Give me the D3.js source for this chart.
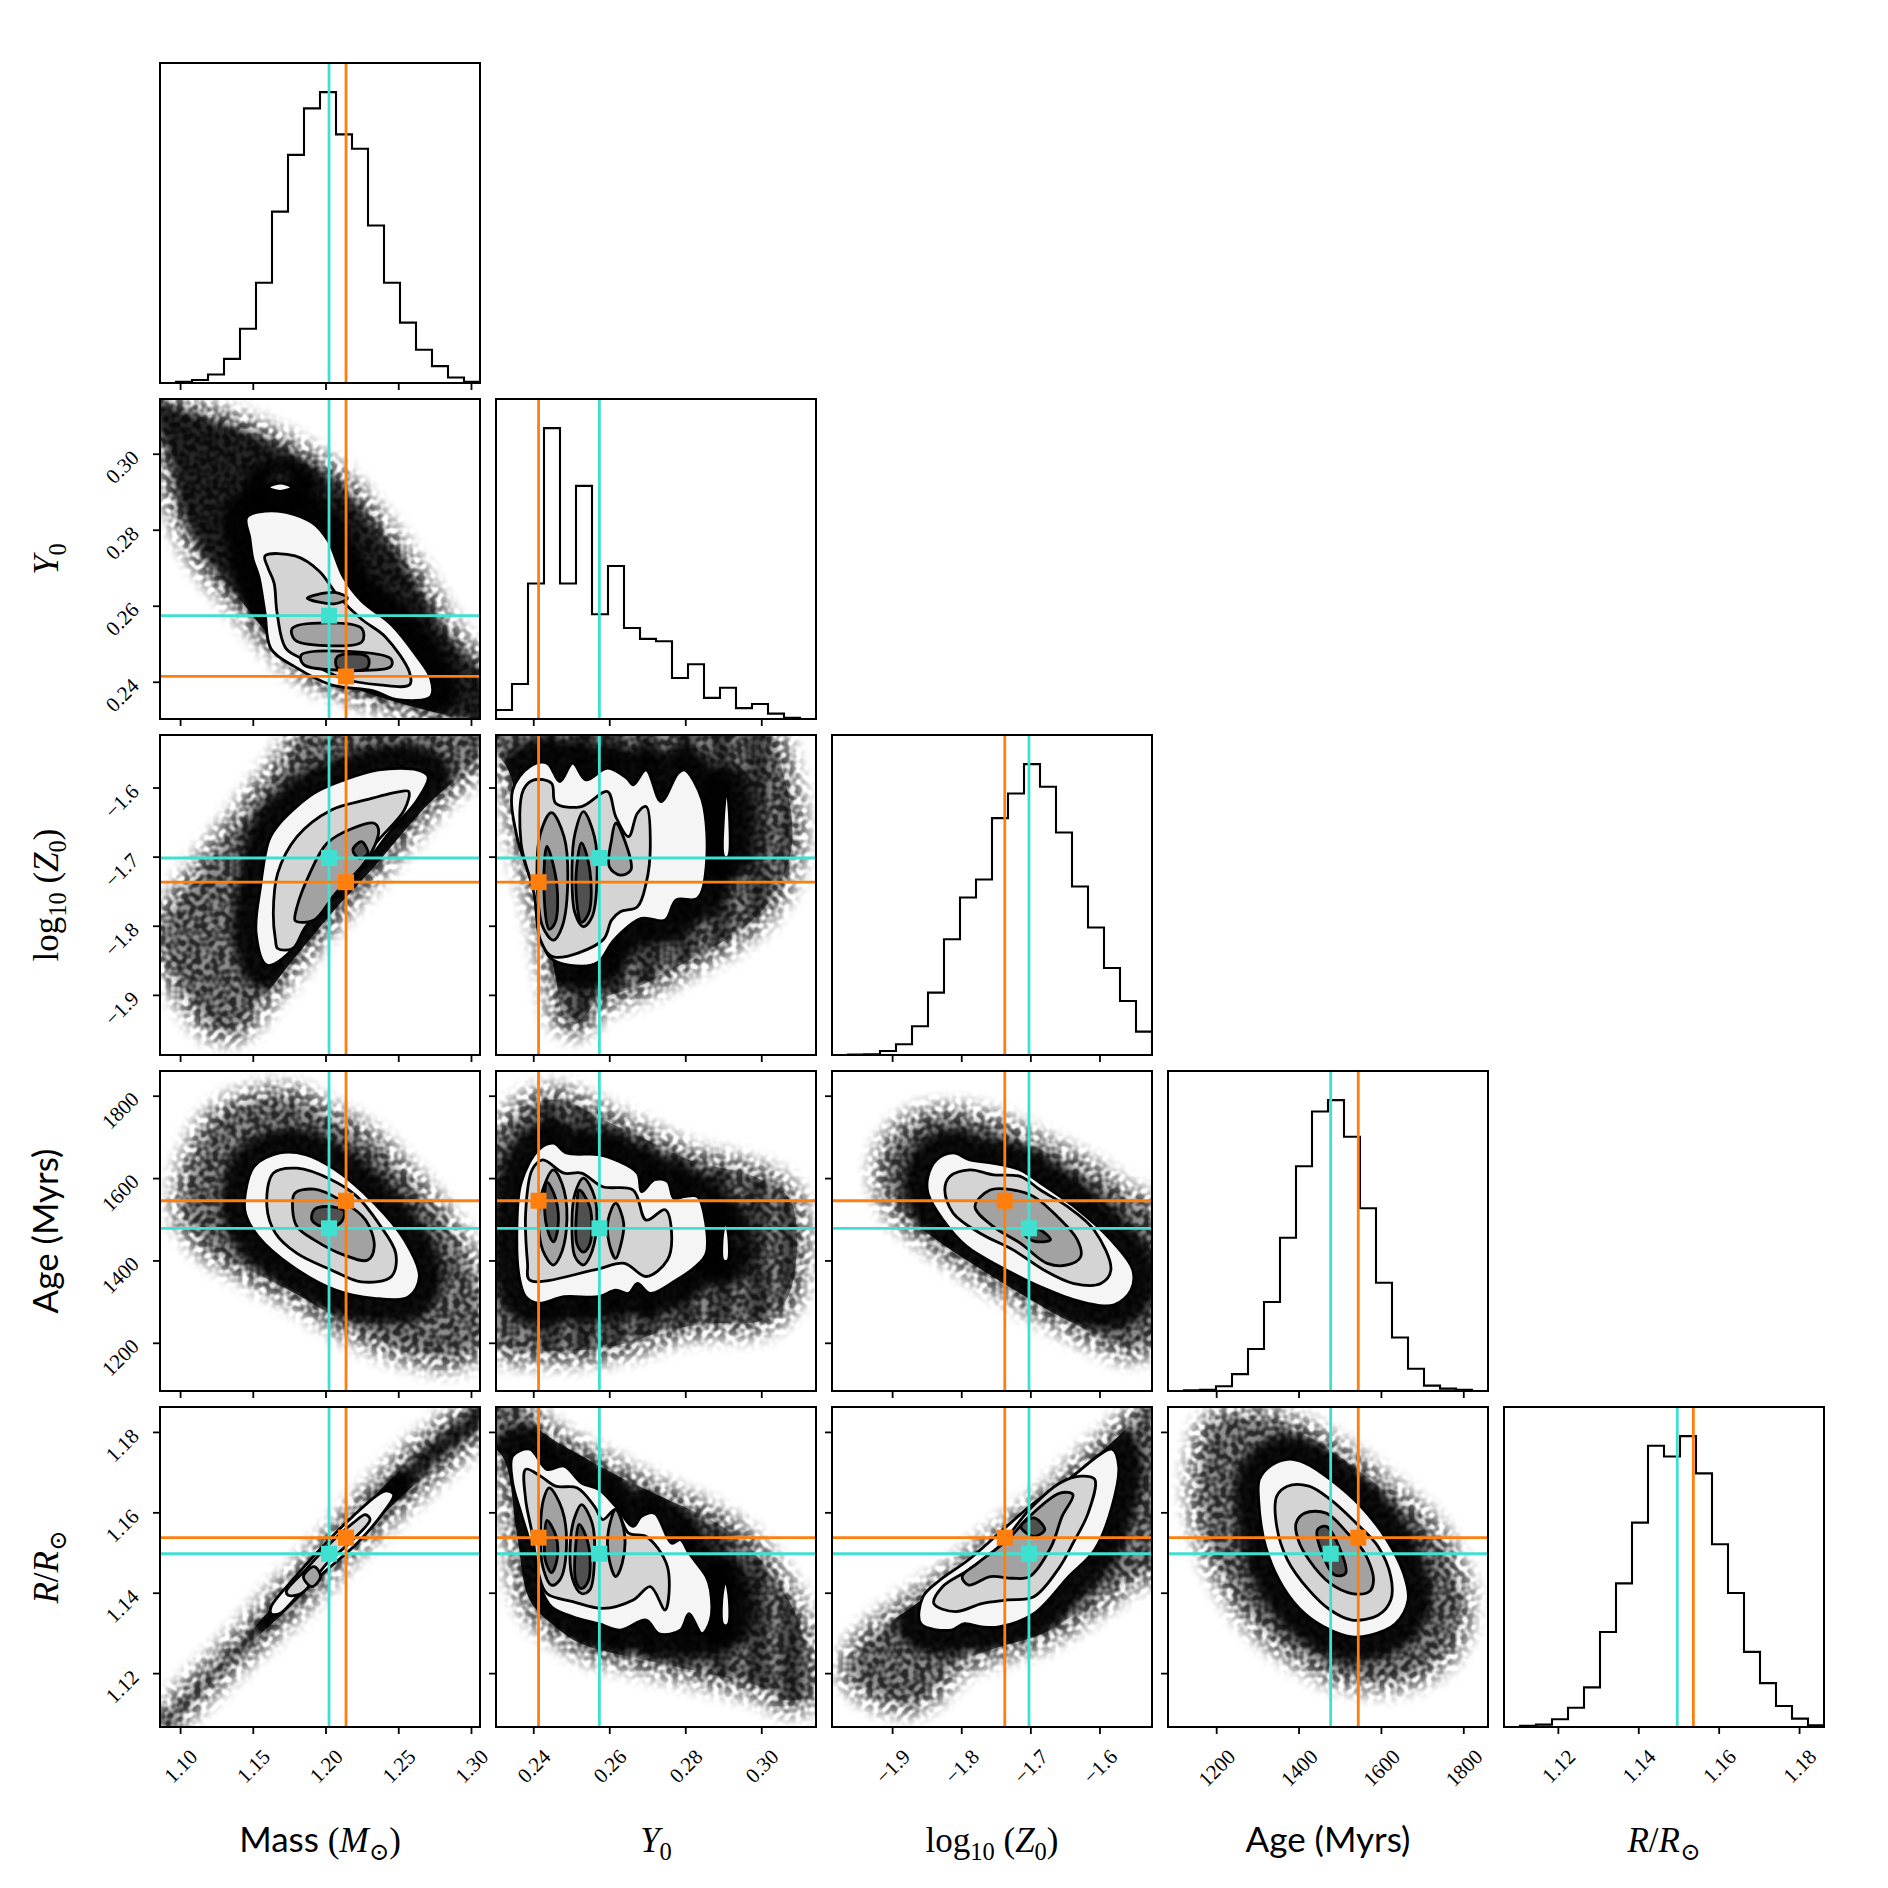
<!DOCTYPE html>
<html>
<head>
<meta charset="utf-8">
<script src="https://cdn.jsdelivr.net/npm/d3@7"></script>
<style>
  body { margin: 0; background: #fff; }
</style>
</head>
<body>
<div id="chart"></div>
<script>
// ---------------------------------------------------------------------------
// axes: Mass, Y0, log10(Z0), Age, R
// ---------------------------------------------------------------------------
var axisRanges = [[1.0862, 1.3062], [0.2302, 0.3144], [-1.987, -1.524], [1083, 1860], [1.1066, 1.1862]];

var massTicks = [1.10, 1.15, 1.20, 1.25, 1.30];
var y0Ticks = [0.24, 0.26, 0.28, 0.30];
var logzTicks = [-1.9, -1.8, -1.7, -1.6];
var ageTicks = [1200, 1400, 1600, 1800];
var radiusTicks = [1.12, 1.14, 1.16, 1.18];

var massTickLabels = ["1.10", "1.15", "1.20", "1.25", "1.30"];
var y0TickLabels = ["0.24", "0.26", "0.28", "0.30"];
var logzTickLabels = ["\u22121.9", "\u22121.8", "\u22121.7", "\u22121.6"];
var ageTickLabels = ["1200", "1400", "1600", "1800"];
var radiusTickLabels = ["1.12", "1.14", "1.16", "1.18"];

var massLabel = [["Mass ", "sans"], ["(", "rm"], ["M", "it"], ["\u2299", "sub"], [")", "rm"]];
var y0Label = [["Y", "it"], ["0", "sub"]];
var logzLabel = [["log", "rm"], ["10", "sub"], [" (", "rm"], ["Z", "it"], ["0", "sub"], [")", "rm"]];
var ageLabel = [["Age (Myrs)", "sans"]];
var radiusLabel = [["R", "it"], ["/", "rm"], ["R", "it"], ["\u2299", "sub"]];

// the two reference models (turquoise, orange)
var truthCyan = [1.2024, 0.2574, -1.702, 1478, 1.1497];
var truthOrange = [1.2141, 0.2414, -1.737, 1545, 1.1537];

// 1D histograms, 20 bins over the axis range
var massHist = [0, 2, 5, 14, 40, 90, 166, 284, 378, 455, 482, 412, 388, 261, 166, 100, 55, 28, 9, 2];
var y0Hist = [15, 58, 225, 483, 225, 387, 174, 254, 151, 133, 129, 68, 91, 35, 52, 18, 25, 9, 2, 0];
var logzHist = [0, 1, 2, 12, 32, 86, 187, 347, 472, 526, 710, 784, 872, 804, 667, 505, 382, 261, 162, 70];
var ageHist = [0, 1, 2, 8, 28, 70, 148, 255, 374, 465, 484, 423, 304, 180, 89, 37, 9, 4, 2, 0];
var radiusHist = [0, 2, 4, 13, 32, 66, 158, 239, 340, 468, 450, 484, 422, 304, 223, 125, 73, 35, 14, 3];

// Y0 values where the sample piles up (dark streaks in the Y0 column)
var y0Stripes = [0.2445, 0.2530, 0.2615, 0.2700, 0.2800, 0.2895, 0.2990, 0.3080];

// ---------------------------------------------------------------------------
// 2D panels: extent of the sample cloud + contour levels (outer -> inner)
// ---------------------------------------------------------------------------
var massY0Cloud = [[1.082, 0.3135], [1.1128, 0.3101], [1.1501, 0.3054], [1.1832, 0.2991], [1.2081, 0.2928], [1.2329, 0.2817], [1.2578, 0.2691], [1.2826, 0.2534], [1.312, 0.2395], [1.312, 0.2290], [1.2826, 0.2313], [1.2578, 0.2337], [1.2246, 0.2376], [1.1915, 0.2424], [1.1625, 0.2518], [1.1418, 0.2613], [1.1170, 0.2723], [1.1004, 0.2849], [1.0921, 0.2991], [1.082, 0.3085]];
var massY0Levels = [
  [[[1.1460, 0.2833], [1.1667, 0.2849], [1.1915, 0.2817], [1.2019, 0.2770], [1.2122, 0.2676], [1.2246, 0.2613], [1.2453, 0.2550], [1.2619, 0.2471], [1.2723, 0.2408], [1.2723, 0.2361], [1.2495, 0.2353], [1.2329, 0.2376], [1.2039, 0.2392], [1.1791, 0.2439], [1.1625, 0.2487], [1.1584, 0.2581], [1.1542, 0.2676], [1.1501, 0.2723], [1.1480, 0.2778]],
   [[1.1605, 0.2912], [1.1687, 0.2923], [1.1770, 0.2912], [1.1687, 0.2901]]],
  [[[1.1584, 0.2731], [1.1791, 0.2731], [1.1957, 0.2691], [1.2081, 0.2628], [1.2246, 0.2565], [1.2412, 0.2518], [1.2578, 0.2424], [1.2578, 0.2392], [1.2371, 0.2392], [1.2122, 0.2408], [1.1874, 0.2455], [1.1729, 0.2487], [1.1667, 0.2581], [1.1646, 0.2660], [1.1605, 0.2699]]],
  [[[1.1874, 0.2620], [1.2060, 0.2635], [1.2150, 0.2620], [1.2060, 0.2605]],
   [[1.1770, 0.2540], [1.2000, 0.2555], [1.2250, 0.2540], [1.2250, 0.2505], [1.2000, 0.2495], [1.1790, 0.2510]],
   [[1.1832, 0.2470], [1.2150, 0.2480], [1.2450, 0.2460], [1.2450, 0.2440], [1.2150, 0.2430], [1.1850, 0.2445]]],
  [[[1.2081, 0.2466], [1.2288, 0.2466], [1.2288, 0.2436], [1.2081, 0.2436]]]
];

var massLogzCloud = [[1.1892, -1.515], [1.312, -1.515], [1.312, -1.5406], [1.2690, -1.6275], [1.2335, -1.7145], [1.2040, -1.7821], [1.1774, -1.8498], [1.1538, -1.9126], [1.1390, -1.9464], [1.1242, -1.9464], [1.1095, -1.9126], [1.0917, -1.8498], [1.0888, -1.8014], [1.1035, -1.7531], [1.1213, -1.7048], [1.1390, -1.6565], [1.1567, -1.6082], [1.1744, -1.5599]];
var massLogzLevels = [
  [[[1.1597, -1.8570], [1.1523, -1.8111], [1.1553, -1.7435], [1.1612, -1.6758], [1.1685, -1.6517], [1.1922, -1.6082], [1.2128, -1.5889], [1.2365, -1.5744], [1.2631, -1.5744], [1.2705, -1.5841], [1.2631, -1.6179], [1.2453, -1.6614], [1.2276, -1.7097], [1.2128, -1.7435], [1.1922, -1.7821], [1.1744, -1.8401]]],
  [[[1.1656, -1.8208], [1.1641, -1.7821], [1.1671, -1.7242], [1.1804, -1.6710], [1.2040, -1.6324], [1.2276, -1.6179], [1.2513, -1.6058], [1.2572, -1.6058], [1.2542, -1.6324], [1.2365, -1.6758], [1.2217, -1.7145], [1.2099, -1.7483], [1.1863, -1.8014], [1.1774, -1.8329], [1.1671, -1.8329]]],
  [[[1.1789, -1.7918], [1.1804, -1.7725], [1.1892, -1.7242], [1.2010, -1.6807], [1.2188, -1.6589], [1.2335, -1.6517], [1.2365, -1.6614], [1.2335, -1.6855], [1.2247, -1.7145], [1.2069, -1.7531], [1.1922, -1.7918], [1.1804, -1.7942]]],
  [[[1.2188, -1.6903], [1.2247, -1.6783], [1.2291, -1.6952], [1.2232, -1.7024]]]
];

var y0LogzCloud = [[0.226, -1.515], [0.2334, -1.5744], [0.2380, -1.6855], [0.2425, -1.7821], [0.2459, -1.8739], [0.2481, -1.9319], [0.2515, -1.9415], [0.2572, -1.9077], [0.2674, -1.8884], [0.2810, -1.8498], [0.2957, -1.8014], [0.3036, -1.7531], [0.3081, -1.6807], [0.3059, -1.5841], [0.3002, -1.515]];
var y0LogzLevels = [
  [[[0.2346, -1.6034], [0.2357, -1.6710], [0.2391, -1.7290], [0.2419, -1.7821], [0.2442, -1.8449], [0.2527, -1.8585], [0.2572, -1.8522], [0.2612, -1.8208], [0.2685, -1.7894], [0.2747, -1.7918], [0.2776, -1.7628], [0.2832, -1.7604], [0.2855, -1.7145], [0.2844, -1.6179], [0.2798, -1.5744], [0.2781, -1.5792], [0.2736, -1.6203], [0.2697, -1.5744], [0.2663, -1.5961], [0.2646, -1.5865], [0.2595, -1.5720], [0.2538, -1.5889], [0.2504, -1.5647], [0.2470, -1.5913], [0.2436, -1.5647], [0.2391, -1.5696]],
   [[0.2902, -1.700], [0.2900, -1.650], [0.2909, -1.603], [0.2917, -1.650], [0.2913, -1.700]]],
  [[[0.2374, -1.6034], [0.2368, -1.6807], [0.2402, -1.7531], [0.2419, -1.8208], [0.2453, -1.8449], [0.2583, -1.8208], [0.2606, -1.7918], [0.2629, -1.7797], [0.2674, -1.7725], [0.2697, -1.7386], [0.2708, -1.6855], [0.2697, -1.6275], [0.2674, -1.6372], [0.2651, -1.6710], [0.2617, -1.6420], [0.2595, -1.6058], [0.2527, -1.6275], [0.2459, -1.6227], [0.2448, -1.5937], [0.2402, -1.5889]]],
  [[[0.2448, -1.6362], [0.2481, -1.6710], [0.2491, -1.7290], [0.2476, -1.8014], [0.2453, -1.8208], [0.2425, -1.8014], [0.2410, -1.7290], [0.2419, -1.6662]],
   [[0.2532, -1.6348], [0.2561, -1.6710], [0.2568, -1.7290], [0.2555, -1.7870], [0.2532, -1.8014], [0.2510, -1.7821], [0.2502, -1.7145], [0.2510, -1.6662]],
   [[0.2617, -1.6517], [0.2640, -1.6758], [0.2657, -1.7193], [0.2629, -1.7266], [0.2600, -1.7145], [0.2606, -1.6758]]],
  [[[0.2436, -1.685], [0.2462, -1.740], [0.2458, -1.795], [0.2442, -1.805], [0.2428, -1.745]],
   [[0.2527, -1.680], [0.2549, -1.720], [0.2547, -1.780], [0.2527, -1.795], [0.2512, -1.740]]]
];

var massAgeCloud = [[1.1095, 1636], [1.1242, 1734], [1.1479, 1782], [1.1774, 1790], [1.2040, 1742], [1.2276, 1693], [1.2513, 1612], [1.2719, 1531], [1.2926, 1425], [1.3044, 1328], [1.3044, 1198], [1.2867, 1166], [1.2572, 1182], [1.2217, 1231], [1.1833, 1312], [1.1479, 1377], [1.1183, 1442], [1.1035, 1523]];
var massAgeLevels = [
  [[[1.1449, 1563], [1.1508, 1628], [1.1685, 1661], [1.1863, 1657], [1.2069, 1620], [1.2335, 1539], [1.2542, 1450], [1.2645, 1361], [1.2572, 1312], [1.2335, 1308], [1.2069, 1328], [1.1774, 1385], [1.1538, 1458], [1.1449, 1515]]],
  [[[1.1597, 1531], [1.1641, 1612], [1.1804, 1624], [1.2040, 1596], [1.2217, 1555], [1.2365, 1490], [1.2483, 1417], [1.2453, 1361], [1.2247, 1348], [1.2040, 1377], [1.1804, 1417], [1.1656, 1466]]],
  [[[1.1774, 1523], [1.1789, 1563], [1.1922, 1573], [1.2099, 1547], [1.2276, 1498], [1.2335, 1434], [1.2291, 1401], [1.2128, 1413], [1.1922, 1450], [1.1804, 1482]]],
  [[[1.1907, 1498], [1.1922, 1523], [1.2010, 1531], [1.2128, 1519], [1.2099, 1490], [1.1981, 1482]]]
];

var y0AgeCloud = [[0.2391, 1774], [0.2470, 1790], [0.2583, 1742], [0.2697, 1693], [0.2810, 1644], [0.2980, 1604], [0.3070, 1555], [0.3093, 1474], [0.3070, 1312], [0.3002, 1255], [0.2866, 1247], [0.2753, 1231], [0.2640, 1198], [0.2527, 1182], [0.2414, 1182], [0.2323, 1190], [0.226, 1312], [0.226, 1620]];
var y0AgeLevels = [
  [[[0.2414, 1669], [0.2453, 1685], [0.2487, 1661], [0.2572, 1657], [0.2617, 1644], [0.2674, 1612], [0.2685, 1567], [0.2719, 1596], [0.2753, 1592], [0.2770, 1551], [0.2798, 1555], [0.2832, 1555], [0.2849, 1515], [0.2855, 1417], [0.2827, 1385], [0.2776, 1352], [0.2708, 1320], [0.2674, 1344], [0.2651, 1320], [0.2617, 1328], [0.2572, 1312], [0.2481, 1312], [0.2414, 1296], [0.2380, 1312], [0.2363, 1361], [0.2357, 1474], [0.2368, 1588]],
   [[0.2900, 1400], [0.2897, 1450], [0.2906, 1495], [0.2915, 1450], [0.2912, 1400]]],
  [[[0.2391, 1352], [0.2561, 1377], [0.2640, 1393], [0.2697, 1361], [0.2753, 1401], [0.2764, 1466], [0.2747, 1523], [0.2697, 1498], [0.2663, 1571], [0.2583, 1579], [0.2527, 1612], [0.2481, 1612], [0.2425, 1644], [0.2397, 1620], [0.2380, 1515], [0.2385, 1393]]],
  [[[0.2453, 1620], [0.2481, 1571], [0.2487, 1474], [0.2470, 1409], [0.2453, 1389], [0.2425, 1425], [0.2414, 1507], [0.2425, 1571]],
   [[0.2532, 1600], [0.2561, 1555], [0.2566, 1474], [0.2549, 1409], [0.2532, 1389], [0.2510, 1409], [0.2502, 1498], [0.2510, 1563]],
   [[0.2617, 1539], [0.2638, 1490], [0.2629, 1433], [0.2617, 1405], [0.2600, 1441], [0.2597, 1498]]],
  [[[0.2436, 1590], [0.2459, 1550], [0.2465, 1480], [0.2453, 1445], [0.2436, 1480], [0.2430, 1550]],
   [[0.2521, 1571], [0.2549, 1530], [0.2549, 1440], [0.2532, 1420], [0.2515, 1440], [0.2515, 1530]]]
];

var logzAgeCloud = [[-1.8990, 1677], [-1.8602, 1734], [-1.8019, 1742], [-1.7437, 1717], [-1.6854, 1669], [-1.6272, 1620], [-1.5689, 1555], [-1.515, 1498], [-1.515, 1231], [-1.5495, 1190], [-1.5981, 1215], [-1.6563, 1263], [-1.7146, 1320], [-1.7777, 1385], [-1.8359, 1450], [-1.8893, 1523], [-1.9087, 1596]];
var logzAgeLevels = [
  [[[-1.8481, 1604], [-1.8359, 1644], [-1.8117, 1661], [-1.7874, 1644], [-1.7534, 1636], [-1.7146, 1620], [-1.6854, 1588], [-1.6369, 1531], [-1.5835, 1450], [-1.5519, 1377], [-1.5544, 1328], [-1.5786, 1292], [-1.6272, 1300], [-1.6854, 1336], [-1.7437, 1385], [-1.7922, 1434], [-1.8262, 1498], [-1.8481, 1563]]],
  [[[-1.8238, 1571], [-1.8165, 1604], [-1.7874, 1620], [-1.7534, 1608], [-1.7146, 1604], [-1.6854, 1571], [-1.6466, 1531], [-1.6078, 1474], [-1.5835, 1377], [-1.5981, 1344], [-1.6369, 1344], [-1.6806, 1377], [-1.7243, 1425], [-1.7728, 1466], [-1.8117, 1515]]],
  [[[-1.7801, 1531], [-1.7583, 1571], [-1.7243, 1571], [-1.6951, 1555], [-1.6612, 1507], [-1.6320, 1450], [-1.6272, 1409], [-1.6466, 1389], [-1.6757, 1393], [-1.7146, 1442], [-1.7534, 1482]]],
  [[[-1.7049, 1482], [-1.6854, 1474], [-1.6709, 1450], [-1.6951, 1447], [-1.7097, 1466]]]
];

var massRadiusCloud = [[1.082, 1.1040], [1.1065, 1.1148], [1.1390, 1.1265], [1.1656, 1.1373], [1.1981, 1.1498], [1.2335, 1.1640], [1.2690, 1.1765], [1.3015, 1.1857], [1.312, 1.1900], [1.312, 1.1840], [1.2749, 1.1715], [1.2453, 1.1615], [1.2158, 1.1515], [1.1804, 1.1382], [1.1479, 1.1273], [1.1183, 1.1173], [1.0917, 1.1069], [1.082, 1.1020]];
var massRadiusLevels = [
  [[[1.1626, 1.1365], [1.1774, 1.1432], [1.1981, 1.1515], [1.2188, 1.1590], [1.2409, 1.1653], [1.2468, 1.1644], [1.2394, 1.1598], [1.2217, 1.1523], [1.2010, 1.1457], [1.1804, 1.1390], [1.1685, 1.1348], [1.1626, 1.1348]]],
  [[[1.1730, 1.1403], [1.1863, 1.1457], [1.2010, 1.1515], [1.2188, 1.1573], [1.2276, 1.1594], [1.2306, 1.1582], [1.2188, 1.1532], [1.2010, 1.1473], [1.1833, 1.1398], [1.1744, 1.1394]]],
  [[[1.1848, 1.1440], [1.1922, 1.1465], [1.1966, 1.1440], [1.1907, 1.1415]]],
  []
];

var y0RadiusCloud = [[0.226, 1.1900], [0.2334, 1.1900], [0.2414, 1.1807], [0.2527, 1.1740], [0.2640, 1.1682], [0.2753, 1.1632], [0.2866, 1.1582], [0.2957, 1.1523], [0.3025, 1.1448], [0.3081, 1.1365], [0.3127, 1.1232], [0.3127, 1.1148], [0.3070, 1.1132], [0.3002, 1.1165], [0.2866, 1.1198], [0.2697, 1.1232], [0.2527, 1.1273], [0.2459, 1.1315], [0.2391, 1.1382], [0.2357, 1.1548], [0.2323, 1.1732], [0.226, 1.1800]];
var y0RadiusLevels = [
  [[[0.2346, 1.1740], [0.2391, 1.1757], [0.2436, 1.1707], [0.2481, 1.1715], [0.2527, 1.1673], [0.2572, 1.1657], [0.2617, 1.1615], [0.2663, 1.1565], [0.2685, 1.1590], [0.2719, 1.1598], [0.2764, 1.1523], [0.2787, 1.1532], [0.2810, 1.1498], [0.2855, 1.1440], [0.2866, 1.1407], [0.2866, 1.1332], [0.2844, 1.1298], [0.2810, 1.1348], [0.2787, 1.1307], [0.2731, 1.1298], [0.2697, 1.1332], [0.2629, 1.1307], [0.2572, 1.1323], [0.2504, 1.1340], [0.2448, 1.1365], [0.2419, 1.1415], [0.2402, 1.1490], [0.2368, 1.1598], [0.2346, 1.1673]],
   [[0.2900, 1.1320], [0.2896, 1.1380], [0.2906, 1.1430], [0.2916, 1.1380], [0.2912, 1.1320]]],
  [[[0.2380, 1.1707], [0.2419, 1.1690], [0.2459, 1.1665], [0.2515, 1.1661], [0.2561, 1.1615], [0.2583, 1.1582], [0.2617, 1.1607], [0.2651, 1.1548], [0.2697, 1.1540], [0.2753, 1.1465], [0.2747, 1.1357], [0.2708, 1.1415], [0.2663, 1.1382], [0.2583, 1.1361], [0.2504, 1.1378], [0.2436, 1.1398], [0.2414, 1.1448], [0.2397, 1.1548], [0.2380, 1.1632]]],
  [[[0.2442, 1.1661], [0.2476, 1.1607], [0.2487, 1.1507], [0.2470, 1.1432], [0.2448, 1.1419], [0.2425, 1.1465], [0.2419, 1.1548], [0.2427, 1.1632]],
   [[0.2527, 1.1619], [0.2555, 1.1573], [0.2561, 1.1482], [0.2549, 1.1407], [0.2527, 1.1398], [0.2504, 1.1432], [0.2498, 1.1532], [0.2510, 1.1590]],
   [[0.2617, 1.1607], [0.2640, 1.1548], [0.2634, 1.1473], [0.2617, 1.1440], [0.2600, 1.1482], [0.2597, 1.1548]]],
  [[[0.2436, 1.1580], [0.2460, 1.1540], [0.2462, 1.1480], [0.2448, 1.1450], [0.2432, 1.1480], [0.2430, 1.1540]],
   [[0.2521, 1.1570], [0.2545, 1.1520], [0.2545, 1.1430], [0.2527, 1.1410], [0.2512, 1.1430], [0.2512, 1.1520]]]
];

var logzRadiusCloud = [[-1.9340, 1.1282], [-1.8711, 1.1365], [-1.8082, 1.1440], [-1.7453, 1.1532], [-1.6824, 1.1615], [-1.6195, 1.1715], [-1.5566, 1.1815], [-1.515, 1.1880], [-1.515, 1.1482], [-1.5566, 1.1440], [-1.6195, 1.1365], [-1.6824, 1.1298], [-1.7453, 1.1265], [-1.8082, 1.1223], [-1.8396, 1.1165], [-1.8711, 1.1132], [-1.9214, 1.1148], [-1.9591, 1.1207]];
var logzRadiusLevels = [
  [[[-1.8553, 1.1390], [-1.8333, 1.1428], [-1.7893, 1.1482], [-1.7453, 1.1548], [-1.6950, 1.1623], [-1.6447, 1.1682], [-1.5818, 1.1757], [-1.5723, 1.1715], [-1.5818, 1.1615], [-1.6069, 1.1507], [-1.6447, 1.1440], [-1.6950, 1.1348], [-1.7453, 1.1315], [-1.7704, 1.1315], [-1.7956, 1.1323], [-1.8145, 1.1307], [-1.8585, 1.1323]]],
  [[[-1.8396, 1.1373], [-1.8270, 1.1415], [-1.7893, 1.1457], [-1.7453, 1.1515], [-1.7013, 1.1607], [-1.6572, 1.1673], [-1.6258, 1.1690], [-1.6069, 1.1682], [-1.6164, 1.1598], [-1.6384, 1.1523], [-1.6572, 1.1465], [-1.6950, 1.1390], [-1.7327, 1.1382], [-1.7704, 1.1373], [-1.8082, 1.1353]]],
  [[[-1.7987, 1.1440], [-1.7767, 1.1473], [-1.7327, 1.1532], [-1.7013, 1.1590], [-1.6572, 1.1648], [-1.6384, 1.1644], [-1.6541, 1.1590], [-1.6698, 1.1515], [-1.7013, 1.1440], [-1.7264, 1.1436], [-1.7579, 1.1440], [-1.7893, 1.1419]]],
  [[[-1.7138, 1.1565], [-1.6950, 1.1586], [-1.6792, 1.1557], [-1.6950, 1.1540]]]
];

var ageRadiusCloud = [[1195, 1.1815], [1299, 1.1832], [1404, 1.1798], [1509, 1.1732], [1614, 1.1648], [1708, 1.1565], [1760, 1.1482], [1792, 1.1382], [1771, 1.1282], [1718, 1.1223], [1635, 1.1190], [1509, 1.1198], [1404, 1.1248], [1299, 1.1332], [1226, 1.1440], [1174, 1.1565], [1163, 1.1698]];
var ageRadiusLevels = [
  [[[1305, 1.1682], [1331, 1.1715], [1373, 1.1732], [1415, 1.1723], [1477, 1.1682], [1551, 1.1615], [1614, 1.1532], [1655, 1.1448], [1666, 1.1382], [1635, 1.1323], [1572, 1.1294], [1530, 1.1290], [1477, 1.1307], [1415, 1.1348], [1362, 1.1415], [1320, 1.1515], [1303, 1.1632]]],
  [[[1347, 1.1640], [1373, 1.1665], [1425, 1.1665], [1477, 1.1632], [1540, 1.1573], [1593, 1.1515], [1624, 1.1440], [1624, 1.1382], [1593, 1.1344], [1530, 1.1332], [1477, 1.1357], [1425, 1.1407], [1373, 1.1482], [1347, 1.1565]]],
  [[[1394, 1.1573], [1415, 1.1598], [1467, 1.1598], [1519, 1.1548], [1561, 1.1498], [1582, 1.1432], [1572, 1.1403], [1530, 1.1398], [1477, 1.1423], [1425, 1.1482], [1399, 1.1532]]],
  [[[1446, 1.1557], [1467, 1.1565], [1498, 1.1515], [1514, 1.1448], [1488, 1.1444], [1457, 1.1498]]]
];

// ---------------------------------------------------------------------------
// tables built from the arrays above
// ---------------------------------------------------------------------------
var tickValues = [massTicks, y0Ticks, logzTicks, ageTicks, radiusTicks];
var tickLabels = [massTickLabels, y0TickLabels, logzTickLabels, ageTickLabels, radiusTickLabels];
var axisLabels = [massLabel, y0Label, logzLabel, ageLabel, radiusLabel];
var histograms = [massHist, y0Hist, logzHist, ageHist, radiusHist];

var pairs = [
  {row: 1, col: 0, cloud: massY0Cloud, levels: massY0Levels, dense: true},
  {row: 2, col: 0, cloud: massLogzCloud, levels: massLogzLevels},
  {row: 2, col: 1, cloud: y0LogzCloud, levels: y0LogzLevels, stripes: true},
  {row: 3, col: 0, cloud: massAgeCloud, levels: massAgeLevels},
  {row: 3, col: 1, cloud: y0AgeCloud, levels: y0AgeLevels, stripes: true},
  {row: 3, col: 2, cloud: logzAgeCloud, levels: logzAgeLevels},
  {row: 4, col: 0, cloud: massRadiusCloud, levels: massRadiusLevels, dense: true},
  {row: 4, col: 1, cloud: y0RadiusCloud, levels: y0RadiusLevels, stripes: true},
  {row: 4, col: 2, cloud: logzRadiusCloud, levels: logzRadiusLevels},
  {row: 4, col: 3, cloud: ageRadiusCloud, levels: ageRadiusLevels}
];

// ---------------------------------------------------------------------------
// layout / style
// ---------------------------------------------------------------------------
var W = 1888, H = 1888;
var size = 320, gap = 16;
var originX = 160, originY = 63;
var nDim = 5;
var cyan = "#40e0d0", orange = "#ff7f0e";
var levelFills = ["#f5f5f5", "#d4d4d4", "#a2a2a2", "#505050"];
var serif = "'Liberation Serif', 'DejaVu Serif', serif";
var sans = "Lato, 'DejaVu Sans', sans-serif";

var svg = d3.select("#chart").append("svg")
  .attr("xmlns", "http://www.w3.org/2000/svg")
  .attr("width", W)
  .attr("height", H);

svg.append("rect").attr("width", W).attr("height", H).attr("fill", "#fff");

var defs = svg.append("defs");

function newFilter(id) {
  return defs.append("filter")
    .attr("id", id)
    .attr("filterUnits", "userSpaceOnUse")
    .attr("x", -80).attr("y", -80)
    .attr("width", size + 160).attr("height", size + 160);
}
newFilter("blurCore").append("feGaussianBlur").attr("stdDeviation", 5);
newFilter("blurStripe").append("feGaussianBlur").attr("stdDeviation", 4);

// grainy blur: looks like many faint overlapping sample points
var grain = newFilter("grain");
grain.append("feGaussianBlur").attr("in", "SourceGraphic").attr("stdDeviation", 8).attr("result", "soft");
grain.append("feTurbulence")
  .attr("type", "fractalNoise").attr("baseFrequency", 0.17)
  .attr("numOctaves", 1).attr("seed", 4).attr("result", "noise");
grain.append("feColorMatrix")
  .attr("in", "noise").attr("type", "matrix")
  .attr("values", "0 0 0 0 0  0 0 0 0 0  0 0 0 0 0  3.4 0 0 0 -1.15")
  .attr("result", "mask");
grain.append("feComposite").attr("in", "soft").attr("in2", "mask").attr("operator", "in");

var xScales = axisRanges.map(function(r) { return d3.scaleLinear().domain(r).range([0, size]); });
var yScales = axisRanges.map(function(r) { return d3.scaleLinear().domain(r).range([size, 0]); });

function panelGroup(i, j) {
  return svg.append("g")
    .attr("transform", "translate(" + (originX + j * (size + gap)) + "," + (originY + i * (size + gap)) + ")");
}

function addClip(g, id) {
  defs.append("clipPath").attr("id", id)
    .append("rect").attr("width", size).attr("height", size);
  return g.append("g").attr("clip-path", "url(#" + id + ")");
}

// bottom ticks on every panel, labels on the last row
function drawXAxis(g, i, j) {
  var ax = g.append("g")
    .attr("transform", "translate(0," + size + ")")
    .call(d3.axisBottom(xScales[j])
      .tickValues(tickValues[j])
      .tickSize(7)
      .tickFormat(function(d, k) { return tickLabels[j][k]; }));
  ax.select(".domain").remove();
  ax.selectAll("line").attr("stroke", "#000").attr("stroke-width", 1.8);
  if (i === nDim - 1) {
    ax.attr("font-family", serif).attr("font-size", 21);
    ax.selectAll("text")
      .attr("fill", "#000")
      .attr("y", 0)
      .attr("dy", "0.35em")
      .attr("text-anchor", "middle")
      .each(function() {
        var w = this.getComputedTextLength();
        var off = 21 + (w + 14) * 0.3535;
        d3.select(this).attr("transform", "translate(0," + off + ") rotate(-45)");
      });
  } else {
    ax.selectAll("text").remove();
  }
}

// left ticks on 2D panels, labels on the first column
function drawYAxis(g, i, j) {
  var ax = g.append("g")
    .call(d3.axisLeft(yScales[i])
      .tickValues(tickValues[i])
      .tickSize(7)
      .tickFormat(function(d, k) { return tickLabels[i][k]; }));
  ax.select(".domain").remove();
  ax.selectAll("line").attr("stroke", "#000").attr("stroke-width", 1.8);
  if (j === 0) {
    ax.attr("font-family", serif).attr("font-size", 21);
    ax.selectAll("text")
      .attr("fill", "#000")
      .attr("x", 0)
      .attr("dy", "0.35em")
      .attr("text-anchor", "middle")
      .each(function() {
        var w = this.getComputedTextLength();
        var dx = -(20 + (w + 14) * 0.3535);
        var dy = 0.25 * (w + 14);
        d3.select(this).attr("transform", "translate(" + dx + "," + dy + ") rotate(-45)");
      });
  } else {
    ax.selectAll("text").remove();
  }
}

function frame(g) {
  g.append("rect")
    .attr("width", size).attr("height", size)
    .attr("fill", "none")
    .attr("stroke", "#000")
    .attr("stroke-width", 2);
}

// ---------------------------------------------------------------------------
// diagonal: histograms
// ---------------------------------------------------------------------------
histograms.forEach(function(counts, j) {
  var g = panelGroup(j, j);
  var body = addClip(g, "clip-h-" + j);
  var xs = xScales[j];
  var ys = d3.scaleLinear().domain([0, 1.1 * d3.max(counts)]).range([size, 0]);
  var lo = axisRanges[j][0], hi = axisRanges[j][1];
  var step = (hi - lo) / counts.length;

  var pts = [[lo, 0]];
  counts.forEach(function(c, k) {
    pts.push([lo + k * step, c]);
    pts.push([lo + (k + 1) * step, c]);
  });
  pts.push([hi, 0]);

  body.append("path")
    .attr("d", d3.line().x(function(d) { return xs(d[0]); }).y(function(d) { return ys(d[1]); })(pts))
    .attr("fill", "none")
    .attr("stroke", "#000")
    .attr("stroke-width", 2.1);

  [[truthCyan, cyan], [truthOrange, orange]].forEach(function(t) {
    body.append("line")
      .attr("x1", xs(t[0][j])).attr("x2", xs(t[0][j]))
      .attr("y1", 0).attr("y2", size)
      .attr("stroke", t[1]).attr("stroke-width", 2.8);
  });

  frame(g);
  drawXAxis(g, j, j);
});

// ---------------------------------------------------------------------------
// off-diagonal: sample cloud + density contours
// ---------------------------------------------------------------------------
pairs.forEach(function(p) {
  var i = p.row, j = p.col;
  var xs = xScales[j], ys = yScales[i];
  var g = panelGroup(i, j);
  var body = addClip(g, "clip-" + i + "-" + j);

  var smooth = d3.line()
    .x(function(d) { return xs(d[0]); })
    .y(function(d) { return ys(d[1]); })
    .curve(d3.curveCatmullRomClosed.alpha(0.5));

  var cloudPath = smooth(p.cloud);
  var cid = "cloud-" + i + "-" + j;
  defs.append("clipPath").attr("id", cid).append("path").attr("d", cloudPath);

  // sparse outskirts, grainy
  body.append("path")
    .attr("d", cloudPath)
    .attr("fill", "#000")
    .attr("stroke", "#000")
    .attr("stroke-width", 30)
    .attr("stroke-linejoin", "round")
    .attr("opacity", 0.7)
    .attr("filter", "url(#grain)");

  // bulk of the cloud
  body.append("path")
    .attr("d", cloudPath)
    .attr("fill", "#000")
    .attr("fill-opacity", p.dense ? 0.85 : 0.45)
    .attr("filter", "url(#blurCore)");

  var inside = body.append("g").attr("clip-path", "url(#" + cid + ")");

  // saturated ring just outside the outermost contour
  inside.append("g")
    .attr("filter", "url(#blurCore)")
    .selectAll("path")
    .data(p.levels[0])
    .enter().append("path")
    .attr("d", smooth)
    .attr("fill", "#000")
    .attr("stroke", "#000")
    .attr("stroke-width", 48)
    .attr("stroke-linejoin", "round")
    .attr("opacity", 0.9);

  if (p.stripes) {
    var sg = inside.append("g").attr("filter", "url(#blurStripe)");
    var sw = xs(0.0050) - xs(0);
    sg.selectAll("rect")
      .data(y0Stripes)
      .enter().append("rect")
      .attr("x", function(d) { return xs(d) - sw / 2; })
      .attr("y", -20)
      .attr("width", sw)
      .attr("height", size + 40)
      .attr("fill", "#000")
      .attr("fill-opacity", 0.5);
  }

  // contour levels, outer to inner
  p.levels.forEach(function(polys, k) {
    body.append("g")
      .selectAll("path")
      .data(polys)
      .enter().append("path")
      .attr("d", smooth)
      .attr("fill", levelFills[k])
      .attr("stroke", "#000")
      .attr("stroke-width", 2.8)
      .attr("stroke-linejoin", "round");
  });

  // reference models
  [[truthCyan, cyan], [truthOrange, orange]].forEach(function(t) {
    var tx = xs(t[0][j]), ty = ys(t[0][i]);
    body.append("line")
      .attr("x1", tx).attr("x2", tx).attr("y1", 0).attr("y2", size)
      .attr("stroke", t[1]).attr("stroke-width", 2.8);
    body.append("line")
      .attr("x1", 0).attr("x2", size).attr("y1", ty).attr("y2", ty)
      .attr("stroke", t[1]).attr("stroke-width", 2.8);
    body.append("rect")
      .attr("x", tx - 8).attr("y", ty - 8)
      .attr("width", 16).attr("height", 16)
      .attr("fill", t[1]);
  });

  frame(g);
  drawXAxis(g, i, j);
  drawYAxis(g, i, j);
});

// ---------------------------------------------------------------------------
// axis titles
// ---------------------------------------------------------------------------
function richText(sel, parts, fontSize) {
  var shift = 0;
  parts.forEach(function(part) {
    var t = sel.append("tspan").text(part[0]);
    var style = part[1];
    var want = (style === "sub") ? fontSize * 0.22 : 0;
    t.attr("dy", want - shift);
    shift = want;
    if (style === "sans") {
      t.attr("font-family", sans);
    } else {
      t.attr("font-family", serif);
      if (style === "it") t.attr("font-style", "italic");
      if (style === "sub") t.attr("font-size", fontSize * 0.7);
    }
  });
}

var titleSize = 35;
axisLabels.forEach(function(parts, j) {
  var cx = originX + j * (size + gap) + size / 2;
  var t = svg.append("text")
    .attr("x", cx)
    .attr("y", 1852)
    .attr("text-anchor", "middle")
    .attr("font-size", titleSize)
    .attr("fill", "#000");
  richText(t, parts, titleSize);
});

axisLabels.forEach(function(parts, i) {
  if (i === 0) return;
  var cy = originY + i * (size + gap) + size / 2;
  var t = svg.append("text")
    .attr("transform", "translate(58," + cy + ") rotate(-90)")
    .attr("text-anchor", "middle")
    .attr("font-size", titleSize)
    .attr("fill", "#000");
  richText(t, parts, titleSize);
});
</script>
</body>
</html>
